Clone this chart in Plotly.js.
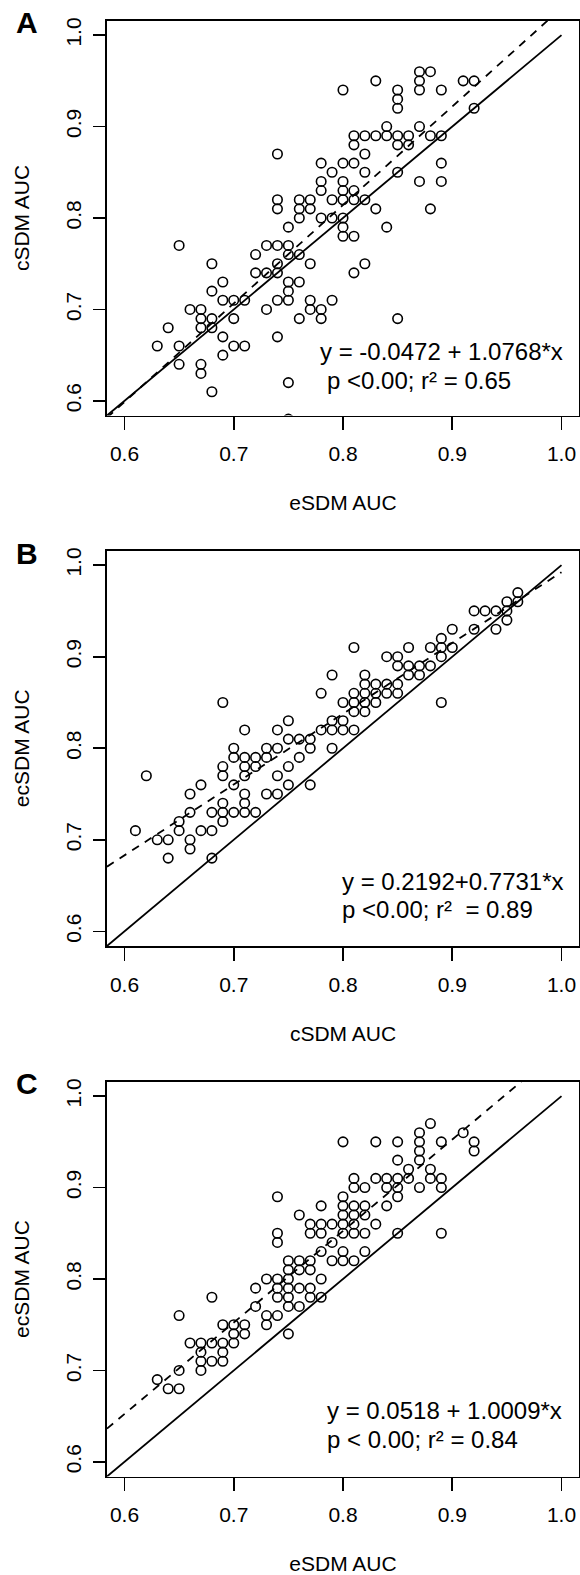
<!DOCTYPE html>
<html>
<head>
<meta charset="utf-8">
<script src="https://cdn.plot.ly/plotly-3.0.1.min.js"></script>
<style>html,body{margin:0;padding:0;background:#fff;}#chart{width:580px;height:1575px;}</style>
</head>
<body>
<div id="chart"></div>
<script>
// ---------- DATA ----------
// Panel A: eSDM AUC (x) vs cSDM AUC (y)
const eSDM_A = [0.74,0.74,0.74,0.65,0.80,0.83,0.85,0.85,0.85,0.87,0.87,0.87,0.88,0.89,0.91,0.92,0.92,0.84,0.87,
  0.81,0.82,0.83,0.84,0.85,0.86,0.88,0.89,0.81,0.85,0.86,0.82,0.78,0.80,0.81,0.89,0.79,0.82,0.85,
  0.78,0.80,0.87,0.89,0.78,0.80,0.81,0.76,0.77,0.79,0.80,0.81,0.82,0.76,0.77,0.83,0.88,
  0.76,0.78,0.79,0.80,0.75,0.80,0.84,0.80,0.81,0.73,0.74,
  0.72,0.75,0.68,0.72,0.73,0.74,0.74,0.69,0.68,0.69,0.70,0.71,0.74,0.66,0.67,0.73,0.67,0.68,0.70,
  0.64,0.67,0.68,0.69,0.74,0.63,0.65,0.70,0.71,0.69,0.65,0.67,0.67,0.68,0.75,0.75,
  0.77,0.81,0.82,0.76,0.75,0.75,0.75,0.77,0.77,0.78,0.78,0.79,0.76,0.85,0.76,0.75];
const cSDM_A = [0.87,0.82,0.81,0.77,0.94,0.95,0.94,0.93,0.92,0.96,0.95,0.94,0.96,0.94,0.95,0.95,0.92,0.90,0.90,
  0.89,0.89,0.89,0.89,0.89,0.89,0.89,0.89,0.88,0.88,0.88,0.87,0.86,0.86,0.86,0.86,0.85,0.85,0.85,
  0.84,0.84,0.84,0.84,0.83,0.83,0.83,0.82,0.82,0.82,0.82,0.82,0.82,0.81,0.81,0.81,0.81,
  0.80,0.80,0.80,0.80,0.79,0.79,0.79,0.78,0.78,0.77,0.77,
  0.76,0.76,0.75,0.74,0.74,0.75,0.74,0.73,0.72,0.71,0.71,0.71,0.71,0.70,0.70,0.70,0.69,0.69,0.69,
  0.68,0.68,0.68,0.67,0.67,0.66,0.66,0.66,0.66,0.65,0.64,0.64,0.63,0.61,0.62,0.58,
  0.75,0.74,0.75,0.73,0.73,0.72,0.71,0.71,0.70,0.70,0.69,0.71,0.69,0.69,0.76,0.77];

// Panel B: cSDM AUC (x) vs ecSDM AUC (y)
const cSDM_B = [0.69,0.71,0.74,0.75,0.70,0.73,0.74,0.75,0.70,0.71,0.72,0.73,0.69,0.71,0.72,0.75,0.62,0.69,0.71,0.74,0.67,
  0.61,0.63,0.64,0.64,0.65,0.65,0.66,0.66,0.66,0.66,0.67,0.68,0.68,0.69,0.69,0.69,0.70,0.71,0.71,0.71,0.72,0.73,0.74,0.68,
  0.96,0.95,0.96,0.92,0.93,0.94,0.95,0.92,0.94,0.95,0.90,0.89,0.88,0.89,0.90,0.89,0.81,0.86,0.84,0.85,
  0.85,0.86,0.87,0.88,0.79,0.82,0.86,0.87,0.82,0.83,0.84,0.85,0.78,0.81,0.82,0.83,0.84,0.85,
  0.80,0.81,0.82,0.83,0.89,0.81,0.82,0.79,0.80,0.78,0.79,0.80,0.81,0.76,0.77,0.77,0.79,0.76,0.77,0.70,0.75];
const ecSDM_B = [0.85,0.82,0.82,0.83,0.80,0.80,0.80,0.81,0.79,0.79,0.79,0.79,0.78,0.78,0.78,0.78,0.77,0.77,0.77,0.77,0.76,
  0.71,0.70,0.70,0.68,0.72,0.71,0.75,0.73,0.70,0.69,0.71,0.71,0.73,0.74,0.73,0.72,0.73,0.75,0.74,0.73,0.73,0.75,0.75,0.68,
  0.97,0.96,0.96,0.95,0.95,0.95,0.95,0.93,0.93,0.94,0.93,0.92,0.91,0.91,0.91,0.90,0.91,0.91,0.90,0.90,
  0.89,0.89,0.89,0.89,0.88,0.88,0.88,0.88,0.87,0.87,0.87,0.87,0.86,0.86,0.86,0.86,0.86,0.86,
  0.85,0.85,0.85,0.85,0.85,0.84,0.84,0.83,0.83,0.82,0.82,0.82,0.82,0.81,0.81,0.80,0.80,0.79,0.76,0.76,0.76];

// Panel C: eSDM AUC (x) vs ecSDM AUC (y)
const eSDM_C = [0.74,0.74,0.74,0.75,0.73,0.74,0.74,0.74,0.75,0.75,0.75,0.75,0.75,0.72,0.68,0.72,0.65,
  0.69,0.70,0.71,0.70,0.71,0.66,0.67,0.68,0.69,0.70,0.67,0.69,0.67,0.68,0.69,0.67,0.65,0.63,0.64,0.65,0.73,0.74,0.73,0.75,
  0.88,0.87,0.87,0.87,0.87,0.91,0.92,0.92,0.89,0.80,0.83,0.85,0.85,0.86,0.88,
  0.81,0.83,0.84,0.85,0.86,0.88,0.89,0.81,0.82,0.84,0.85,0.87,0.89,0.80,0.85,
  0.78,0.80,0.81,0.82,0.84,0.76,0.80,0.81,0.82,0.77,0.78,0.79,0.80,0.81,0.83,
  0.77,0.78,0.80,0.81,0.82,0.85,0.89,0.79,0.78,0.80,0.82,0.79,0.80,0.81,
  0.76,0.77,0.76,0.77,0.78,0.76,0.77,0.77,0.78,0.76];
const ecSDM_C = [0.89,0.85,0.84,0.82,0.80,0.80,0.79,0.78,0.81,0.80,0.79,0.78,0.77,0.79,0.78,0.77,0.76,
  0.75,0.75,0.75,0.74,0.74,0.73,0.73,0.73,0.73,0.73,0.72,0.72,0.71,0.71,0.71,0.70,0.70,0.69,0.68,0.68,0.76,0.76,0.75,0.74,
  0.97,0.96,0.95,0.94,0.93,0.96,0.95,0.94,0.95,0.95,0.95,0.95,0.93,0.92,0.92,
  0.91,0.91,0.91,0.91,0.91,0.91,0.91,0.90,0.90,0.90,0.90,0.90,0.90,0.89,0.89,
  0.88,0.88,0.88,0.88,0.88,0.87,0.87,0.87,0.87,0.86,0.86,0.86,0.86,0.86,0.86,
  0.85,0.85,0.85,0.85,0.85,0.85,0.85,0.84,0.83,0.83,0.83,0.82,0.82,0.82,
  0.82,0.82,0.81,0.81,0.80,0.79,0.79,0.78,0.78,0.77];

// Regression fits and labels
const panelLetters = ['A','B','C'];
const intercepts = [-0.0472, 0.2192, 0.0518];
const slopes = [1.0768, 0.7731, 1.0009];
const eqTexts = ['y = -0.0472 + 1.0768*x', 'y = 0.2192+0.7731*x', 'y = 0.0518 + 1.0009*x'];
const statTexts = ['p <0.00; r\u00b2 = 0.65', 'p <0.00; r\u00b2 \u00a0= 0.89', 'p < 0.00; r\u00b2 = 0.84'];
const xTitles = ['eSDM AUC', 'cSDM AUC', 'eSDM AUC'];
const yTitles = ['cSDM AUC', 'ecSDM AUC', 'ecSDM AUC'];
const tickVals = [0.6, 0.7, 0.8, 0.9, 1.0];
const tickText = ['0.6', '0.7', '0.8', '0.9', '1.0'];
const lineX = [0.5, 1.0];

const xs = [eSDM_A, cSDM_B, eSDM_C];
const ys = [cSDM_A, ecSDM_B, ecSDM_C];

// ---------- LAYOUT ----------
const W = 580, H = 1575;
const FONT = 'Liberation Sans, Arial, sans-serif';
const boxL = 107, boxR = 579;
const boxTop = [20.5, 550.5, 1081.5];
const boxBot = [415.5, 946, 1476.5];
const px = v => v / W;
const py = v => 1 - v / H;

const traces = [];
const annotations = [];
const layout = {
  width: W, height: H,
  margin: {l: 0, r: 0, t: 0, b: 0},
  paper_bgcolor: '#fff', plot_bgcolor: '#fff',
  showlegend: false,
  font: {family: FONT, color: '#000'},
  annotations: annotations
};

for (let i = 0; i < 3; i++) {
  const sfx = i === 0 ? '' : String(i + 1);
  const xa = 'x' + sfx, ya = 'y' + sfx;
  layout['xaxis' + sfx] = {
    domain: [px(boxL), px(boxR)], range: [0.584, 1.016], anchor: ya,
    showgrid: false, zeroline: false, showline: true, mirror: true,
    linecolor: '#000', linewidth: 1.6,
    ticks: 'outside', ticklen: 13, tickwidth: 1.6, tickcolor: '#000',
    tickvals: tickVals, ticktext: tickText, ticklabelstandoff: 6,
    tickfont: {family: FONT, size: 21, color: '#000'}, fixedrange: true,
    title: {text: xTitles[i], standoff: 31, font: {family: FONT, size: 21, color: '#000'}}
  };
  layout['yaxis' + sfx] = {
    domain: [py(boxBot[i]), py(boxTop[i])], range: [0.584, 1.016], anchor: xa,
    showgrid: false, zeroline: false, showline: true, mirror: true,
    linecolor: '#000', linewidth: 1.6,
    ticks: 'outside', ticklen: 12, tickwidth: 1.6, tickcolor: '#000',
    tickvals: tickVals, ticktext: tickText, tickangle: -90, ticklabelstandoff: 4,
    tickfont: {family: FONT, size: 21, color: '#000'}, fixedrange: true,
    title: {text: yTitles[i], standoff: 26, font: {family: FONT, size: 21, color: '#000'}}
  };
  // 1:1 line
  traces.push({x: lineX, y: lineX, xaxis: xa, yaxis: ya, mode: 'lines',
    line: {color: '#000', width: 1.8}, hoverinfo: 'skip'});
  // regression line
  const rx = [0.584, 1.0];
  traces.push({x: rx, y: rx.map(v => intercepts[i] + slopes[i] * v), xaxis: xa, yaxis: ya, mode: 'lines',
    line: {color: '#000', width: 1.8, dash: '8px,7px'}, hoverinfo: 'skip'});
  // points
  traces.push({x: xs[i], y: ys[i], xaxis: xa, yaxis: ya, mode: 'markers', cliponaxis: true,
    marker: {symbol: 'circle-open', size: 9.5, color: '#000', line: {width: 1.6, color: '#000'}}});

  const off = [0, 530.5, 1061][i];
  // panel letter
  annotations.push({xref: 'paper', yref: 'paper', x: px(26.5), y: py(22.5 + off), text: '<b>' + panelLetters[i] + '</b>',
    showarrow: false, xanchor: 'center', yanchor: 'middle', font: {family: FONT, size: 30, color: '#000'}});
}

// equation annotations
const eqPos = [[318, 351.7, 325, 380], [340, 881.7, 340, 910], [325, 1410, 325, 1439]];
for (let i = 0; i < 3; i++) {
  const p = eqPos[i];
  annotations.push({xref: 'paper', yref: 'paper', x: px(p[0]), y: py(p[1]), text: eqTexts[i],
    showarrow: false, xanchor: 'left', yanchor: 'middle', font: {family: FONT, size: 24, color: '#000'}});
  annotations.push({xref: 'paper', yref: 'paper', x: px(p[2]), y: py(p[3]), text: statTexts[i],
    showarrow: false, xanchor: 'left', yanchor: 'middle', font: {family: FONT, size: 24, color: '#000'}});
}

Plotly.newPlot('chart', traces, layout, {staticPlot: true, displayModeBar: false});
</script>
</body>
</html>
